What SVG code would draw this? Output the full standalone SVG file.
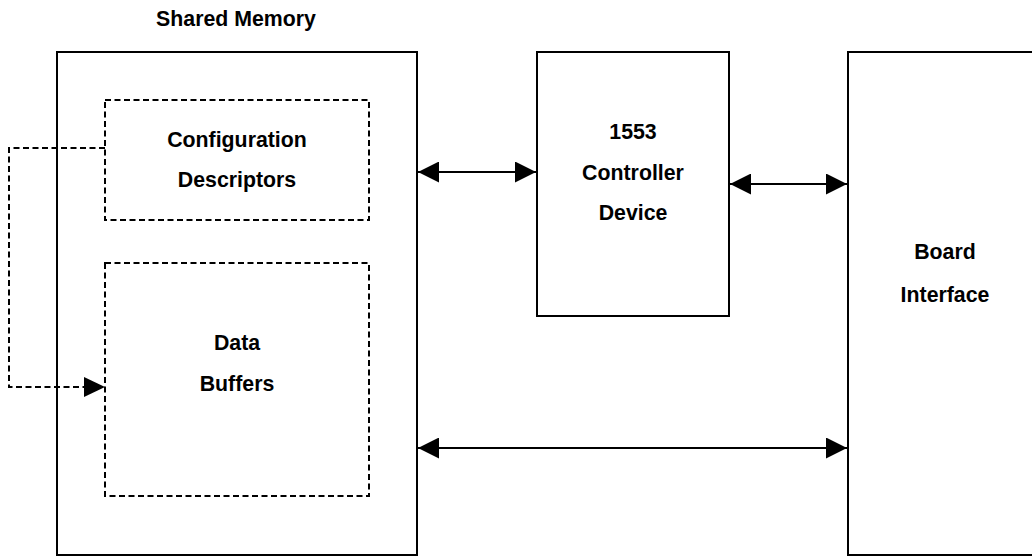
<svg xmlns="http://www.w3.org/2000/svg" width="1032" height="556" viewBox="0 0 1032 556">
  <style>
    .box { fill: #fff; stroke: #000; stroke-width: 2; }
    .dbox { fill: none; stroke: #000; stroke-width: 2; stroke-dasharray: 6 3.5; }
    .lbl { font-family: "Liberation Sans", Arial, sans-serif; font-weight: bold; font-size: 21.3px; fill: #000; text-anchor: middle; }
    .conn { fill: none; stroke: #000; stroke-width: 2; }
    .dconn { fill: none; stroke: #000; stroke-width: 2; stroke-dasharray: 6 3.5; }
  </style>
  <defs>
    <marker id="ah" markerUnits="userSpaceOnUse" markerWidth="21" markerHeight="21" viewBox="0 0 21 21" refX="21" refY="10.5" orient="auto-start-reverse">
      <path d="M0,0 L21,10.5 L0,21 Z" fill="#000"/>
    </marker>
  </defs>
  <rect width="1032" height="556" fill="#fff"/>
  <text class="lbl" x="236" y="26">Shared Memory</text>
  <g id="shared-memory">
    <rect class="box" x="57" y="52" width="360" height="503"/>
  </g>
  <g id="config-descriptors">
    <rect class="dbox" x="105" y="100" width="264" height="120"/>
    <text class="lbl" x="237" y="147">Configuration</text>
    <text class="lbl" x="237" y="187">Descriptors</text>
  </g>
  <g id="data-buffers">
    <rect class="dbox" x="105" y="263" width="264" height="233"/>
    <text class="lbl" x="237" y="350">Data</text>
    <text class="lbl" x="237" y="391">Buffers</text>
  </g>
  <g id="controller">
    <rect class="box" x="537" y="52" width="192" height="264"/>
    <text class="lbl" x="633" y="139">1553</text>
    <text class="lbl" x="633" y="180">Controller</text>
    <text class="lbl" x="633" y="220">Device</text>
  </g>
  <g id="board-interface">
    <rect class="box" x="848" y="52" width="194" height="503"/>
    <text class="lbl" x="945" y="259">Board</text>
    <text class="lbl" x="945" y="302">Interface</text>
  </g>
  <g id="connectors">
    <path class="dconn" d="M105,148 H9 V387 H86"/>
    <path d="M84,377 L105,387 L84,397 Z" fill="#000"/>
    <line class="conn" x1="418" y1="172" x2="536" y2="172" marker-start="url(#ah)" marker-end="url(#ah)"/>
    <line class="conn" x1="730" y1="184" x2="847" y2="184" marker-start="url(#ah)" marker-end="url(#ah)"/>
    <line class="conn" x1="418" y1="448" x2="847" y2="448" marker-start="url(#ah)" marker-end="url(#ah)"/>
  </g>
</svg>
